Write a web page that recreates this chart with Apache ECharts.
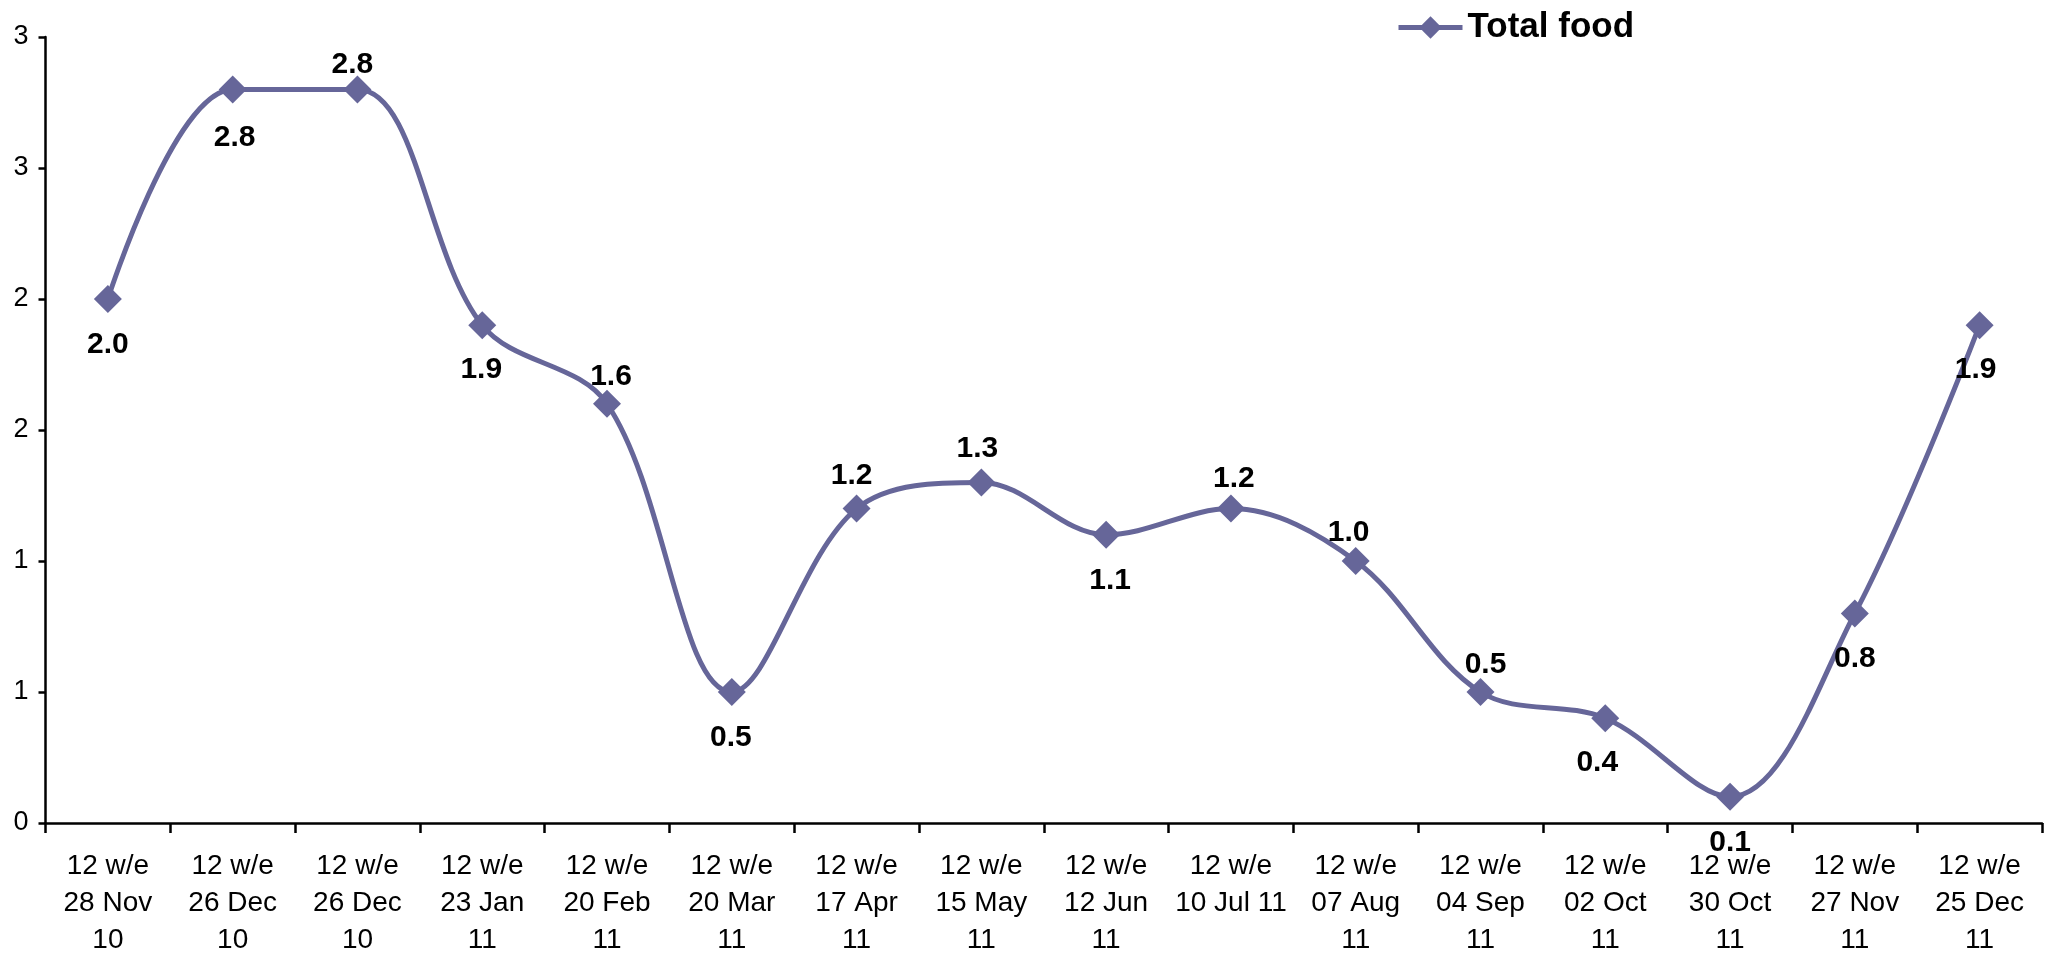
<!DOCTYPE html>
<html>
<head>
<meta charset="utf-8">
<title>Total food</title>
<script src="https://cdn.jsdelivr.net/npm/echarts@6/dist/echarts.min.js"></script>
<style>
  html, body { margin: 0; padding: 0; background: #ffffff; }
  #chart { width: 2049px; height: 953px; }
</style>
</head>
<body>
<div id="chart"></div>
<script>
// Period labels (12 weeks ending)
const categories = [
  '12 w/e\n28 Nov\n10', '12 w/e\n26 Dec\n10', '12 w/e\n26 Dec\n10', '12 w/e\n23 Jan\n11',
  '12 w/e\n20 Feb\n11', '12 w/e\n20 Mar\n11', '12 w/e\n17 Apr\n11', '12 w/e\n15 May\n11',
  '12 w/e\n12 Jun\n11', '12 w/e\n10 Jul 11', '12 w/e\n07 Aug\n11', '12 w/e\n04 Sep\n11',
  '12 w/e\n02 Oct\n11', '12 w/e\n30 Oct\n11', '12 w/e\n27 Nov\n11', '12 w/e\n25 Dec\n11'
];

// Total food series values
const totalFood = [2.0, 2.8, 2.8, 1.9, 1.6, 0.5, 1.2, 1.3, 1.1, 1.2, 1.0, 0.5, 0.4, 0.1, 0.8, 1.9];

// Value-axis tick labels, one per 0.5 step from 0 to 3
const yTickLabels = ['0', '1', '1', '2', '2', '3', '3'];

// Where each value label sits relative to its marker (x, y offset in px)
const labelOffsets = [
  [0, 46], [2, 48], [-5, -25], [-1, 45], [4, -27], [-1, 46], [-5, -33], [-4, -34],
  [4, 46], [3, -30], [-7, -28], [5, -27], [-8, 45], [0, 46], [0, 45], [-4, 45]
];

const LINE_COLOR = '#666699';
const FONT = 'Liberation Sans, Arial, sans-serif';

const chart = echarts.init(document.getElementById('chart'), null, { renderer: 'canvas' });

const seriesData = totalFood.map((v, i) => ({
  value: v,
  label: {
    show: true,
    position: 'inside',
    offset: labelOffsets[i],
    formatter: (p) => p.value.toFixed(1),
    color: '#000000',
    fontFamily: FONT,
    fontWeight: 'bold',
    fontSize: 30
  }
}));

chart.setOption({
  animation: false,
  backgroundColor: '#ffffff',
  grid: {
    left: 45.5, right: 7, top: 37, bottom: 130,
    containLabel: false,
    outerBoundsMode: 'none'
  },
  legend: {
    left: 1391,
    top: 5,
    itemWidth: 64,
    itemHeight: 28,
    selectedMode: false,
    lineStyle: { width: 5 },
    textStyle: {
      color: '#000000',
      fontFamily: FONT,
      fontWeight: 'bold',
      fontSize: 35
    },
    data: ['Total food']
  },
  xAxis: {
    type: 'category',
    data: categories,
    boundaryGap: true,
    axisLine: { lineStyle: { color: '#000000', width: 2.5 } },
    axisTick: { show: true, length: 10, inside: false, alignWithLabel: false, lineStyle: { color: '#000000', width: 2.5 } },
    axisLabel: {
      interval: 0,
      margin: 25,
      color: '#000000',
      fontFamily: FONT,
      fontSize: 28,
      lineHeight: 37
    },
    splitLine: { show: false }
  },
  yAxis: {
    type: 'value',
    min: 0,
    max: 3,
    interval: 0.5,
    axisLine: { show: true, lineStyle: { color: '#000000', width: 2.5 } },
    axisTick: { show: true, length: 7, inside: false, lineStyle: { color: '#000000', width: 2.5 } },
    axisLabel: {
      margin: 17,
      color: '#000000',
      fontFamily: FONT,
      fontSize: 27,
      formatter: (v) => yTickLabels[Math.round(v / 0.5)]
    },
    splitLine: { show: false }
  },
  series: [{
    name: 'Total food',
    type: 'line',
    smooth: 0.35,
    data: seriesData,
    symbol: 'diamond',
    symbolSize: 28,
    showAllSymbol: true,
    lineStyle: { color: LINE_COLOR, width: 5 },
    itemStyle: { color: LINE_COLOR },
    emphasis: { disabled: true },
    z: 3
  }]
});
</script>
</body>
</html>
